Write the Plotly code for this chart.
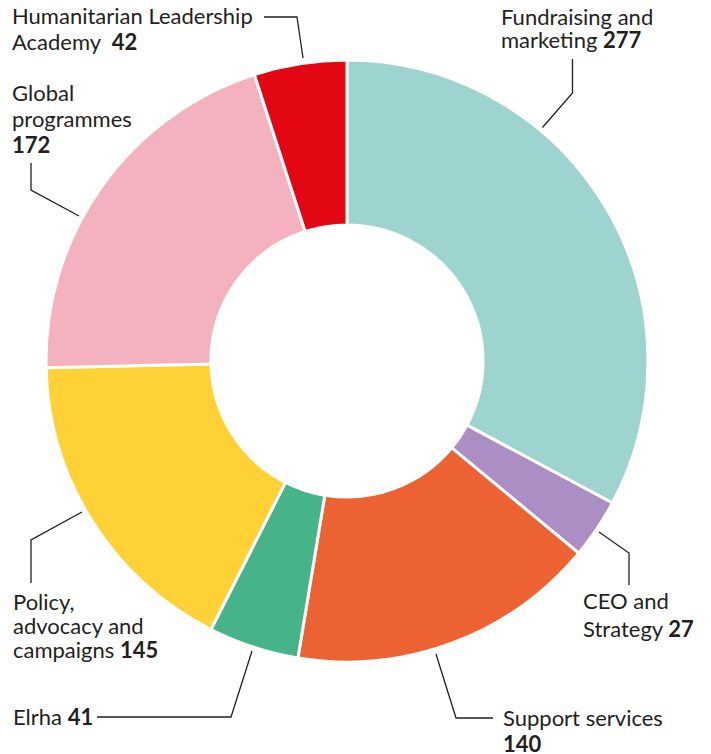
import plotly.graph_objects as go

W, H = 711, 754

categories = ["Fundraising and marketing", "CEO and Strategy", "Support services",
              "Elrha", "Policy, advocacy and campaigns", "Global programmes",
              "Humanitarian Leadership Academy"]
values = [277, 27, 140, 41, 145, 172, 42]
colors = ["#9dd4cf", "#ab8fc4", "#ec6232", "#46b488", "#fed136", "#f4b2bf", "#e30613"]
label_lines = [
    ["Fundraising and", "marketing <b>{}</b>"],
    ["CEO and", "Strategy <b>{}</b>"],
    ["Support services", "<b>{}</b>"],
    ["Elrha <b>{}</b>"],
    ["Policy,", "advocacy and", "campaigns <b>{}</b>"],
    ["Global", "programmes", "<b>{}</b>"],
    ["Humanitarian Leadership", "Academy  <b>{}</b>"],
]

# layout: label left x and baselines of each line (px); leader-line paths (px)
label_x = [499, 581, 501, 11, 11, 10, 10]
label_baselines = [
    [24.5, 48.5],
    [609, 636.5],
    [726, 752],
    [724.5],
    [609.5, 633.5, 657.5],
    [101.5, 127, 153],
    [24, 50],
]
leaders = [
    [(572.5, 59), (572.5, 93), (542.5, 127.5)],
    [(599, 532), (629, 553), (629, 585)],
    [(436, 654), (456, 718), (493, 718)],
    [(252, 651), (231, 717), (97, 717)],
    [(82, 512), (31, 540), (31, 583)],
    [(31, 163), (31, 190), (79, 216)],
    [(264, 17), (297, 17), (303, 58)],
]

FS = 22


def px(x, y):
    return x / W, 1 - y / H


fig = go.Figure(go.Pie(
    labels=categories, values=values, sort=False, direction="clockwise",
    rotation=0, hole=0.452, textinfo="none", hoverinfo="label+value",
    marker=dict(colors=colors, line=dict(color="white", width=3)),
    domain=dict(x=[46 / W, 648 / W], y=[1 - 662 / H, 1 - 60 / H]),
    showlegend=False,
))

annotations = []
for lines, v, x, bls in zip(label_lines, values, label_x, label_baselines):
    for line, bl in zip(lines, bls):
        ax, ay = px(x, bl - 8.5)
        annotations.append(dict(
            text=line.format(v), x=ax, y=ay, xref="paper", yref="paper",
            xanchor="left", yanchor="middle", align="left", showarrow=False,
            font=dict(family="Lato", size=FS, color="#231f20"),
        ))

shapes = []
for path in leaders:
    d = ""
    for i, (x, y) in enumerate(path):
        X, Y = px(x, y)
        d += ("M" if i == 0 else "L") + f"{X},{Y} "
    shapes.append(dict(type="path", path=d.strip(), xref="paper", yref="paper",
                       line=dict(color="#231f20", width=1.3)))

fig.update_layout(
    width=W, height=H, margin=dict(l=0, r=0, t=0, b=0),
    paper_bgcolor="white", plot_bgcolor="white",
    annotations=annotations, shapes=shapes,
)

fig.write_html("out.html", config={"displayModeBar": False},
               post_script="document.body.style.margin='0';")
